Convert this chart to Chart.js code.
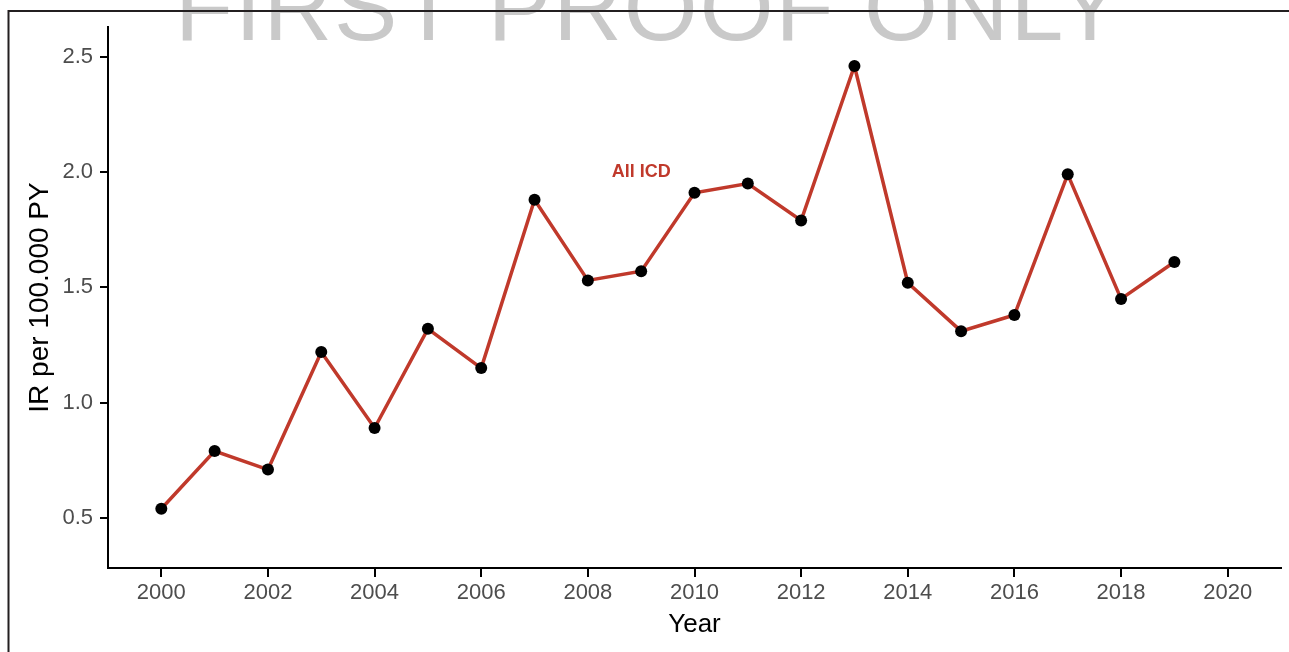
<!DOCTYPE html>
<html>
<head>
<meta charset="utf-8">
<script src="https://cdn.jsdelivr.net/npm/chart.js@4"></script>
<style>
    html, body { margin: 0; padding: 0; background: #ffffff; }
    #wrap { position: relative; width: 1289px; height: 652px; }
</style>
</head>
<body>
<div id="wrap"><canvas id="irChart" width="1289" height="652"></canvas></div>
<script>
// Datos
const years = [2000, 2001, 2002, 2003, 2004, 2005, 2006, 2007, 2008, 2009,
               2010, 2011, 2012, 2013, 2014, 2015, 2016, 2017, 2018, 2019];
const irAllIcd = [0.54, 0.79, 0.71, 1.22, 0.89, 1.32, 1.15, 1.88, 1.53, 1.57,
                  1.91, 1.95, 1.79, 2.46, 1.52, 1.31, 1.38, 1.99, 1.45, 1.61];
const xTicks = [2000, 2002, 2004, 2006, 2008, 2010, 2012, 2014, 2016, 2018, 2020];
const yTicks = [0.5, 1.0, 1.5, 2.0, 2.5];
const seriesName = 'All ICD';

const lineRed = '#C0392B';
const fontFamily = '"Liberation Sans", Arial, Helvetica, sans-serif';

// Marca de agua y marco de la página
const pagePlugin = {
    id: 'page',
    beforeDraw(chart) {
        const ctx = chart.ctx;
        ctx.save();
        ctx.fillStyle = '#c9c9c9';
        ctx.font = '95px ' + fontFamily;
        ctx.letterSpacing = '2px';
        ctx.textBaseline = 'alphabetic';
        ctx.textAlign = 'left';
        ctx.fillText('FIRST PROOF ONLY', 175, 40);
        ctx.letterSpacing = '0px';
        // marco
        ctx.strokeStyle = '#231f20';
        ctx.lineWidth = 2;
        ctx.beginPath();
        ctx.moveTo(8.5, 652);
        ctx.lineTo(8.5, 11);
        ctx.lineTo(1289, 11);
        ctx.stroke();
        ctx.restore();
    }
};

// Etiqueta de la serie dentro del gráfico
const seriesLabelPlugin = {
    id: 'seriesLabel',
    afterDatasetsDraw(chart) {
        const ctx = chart.ctx;
        const x = chart.scales.x.getPixelForValue(2009);
        const y = chart.scales.y.getPixelForValue(2.0);
        ctx.save();
        ctx.fillStyle = lineRed;
        ctx.font = 'bold 18px ' + fontFamily;
        ctx.textAlign = 'center';
        ctx.textBaseline = 'middle';
        ctx.fillText(seriesName, x, y);
        ctx.restore();
    }
};

const ctx = document.getElementById('irChart').getContext('2d');
const irChart = new Chart(ctx, {
    type: 'line',
    data: {
        datasets: [{
            label: seriesName,
            data: years.map((yr, i) => ({ x: yr, y: irAllIcd[i] })),
            borderColor: lineRed,
            borderWidth: 3.5,
            tension: 0,
            pointRadius: 6,
            pointBackgroundColor: '#000000',
            pointBorderWidth: 0,
            clip: false
        }]
    },
    options: {
        responsive: false,
        animation: false,
        layout: { padding: { left: 0, top: 27, right: 8, bottom: 0 } },
        plugins: {
            legend: { display: false },
            tooltip: { enabled: false }
        },
        scales: {
            x: {
                type: 'linear',
                min: 1999,
                max: 2021,
                afterBuildTicks: scale => { scale.ticks = xTicks.map(v => ({ value: v })); },
                afterFit: scale => { scale.height = 84; },
                grid: { drawOnChartArea: false, drawTicks: true, tickLength: 9, color: '#000000', lineWidth: 2 },
                border: { display: true, color: '#000000', width: 2 },
                ticks: {
                    color: '#4d4d4d',
                    padding: 3,
                    maxRotation: 0,
                    font: { family: fontFamily, size: 22 },
                    callback: v => String(v)
                },
                title: {
                    display: true,
                    text: 'Year',
                    color: '#000000',
                    font: { family: fontFamily, size: 26 },
                    padding: { top: 0, bottom: 12 }
                }
            },
            y: {
                min: 0.283,
                max: 2.629,
                afterBuildTicks: scale => { scale.ticks = yTicks.map(v => ({ value: v })); },
                afterFit: scale => { scale.width = 108; },
                grid: { drawOnChartArea: false, drawTicks: true, tickLength: 8, color: '#000000', lineWidth: 2 },
                border: { display: true, color: '#000000', width: 2 },
                ticks: {
                    color: '#4d4d4d',
                    padding: 7,
                    font: { family: fontFamily, size: 22 },
                    callback: v => v.toFixed(1)
                },
                title: {
                    display: true,
                    text: 'IR per 100.000 PY',
                    color: '#000000',
                    font: { family: fontFamily, size: 28 },
                    padding: { top: 23, bottom: 0 }
                }
            }
        }
    },
    plugins: [pagePlugin, seriesLabelPlugin]
});
</script>
</body>
</html>
